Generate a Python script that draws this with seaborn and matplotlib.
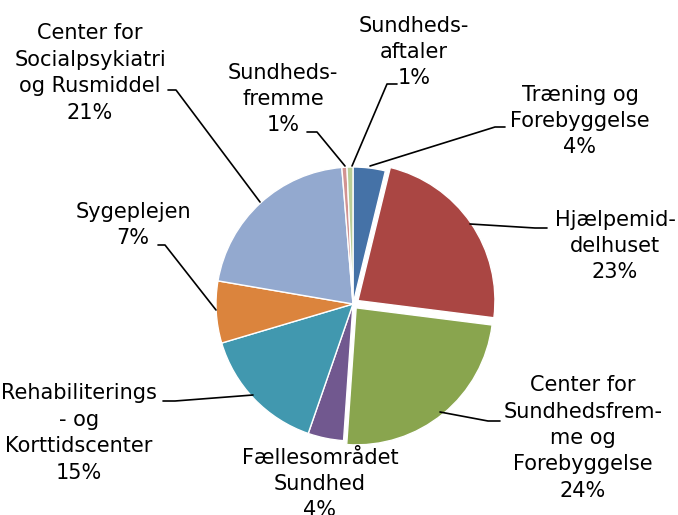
import numpy as np
import matplotlib
matplotlib.use("Agg")
import matplotlib.pyplot as plt
import seaborn as sns

# slices, clockwise from 12 o'clock
names = ["Træning og\nForebyggelse", "Hjælpemid-\ndelhuset",
         "Center for\nSundhedsfrem-\nme og\nForebyggelse", "Fællesområdet\nSundhed",
         "Rehabiliterings\n- og\nKorttidscenter", "Sygeplejen",
         "Center for\nSocialpsykiatri\nog Rusmiddel", "Sundheds-\nfremme", "Sundheds-\naftaler"]
values = [3.8, 23.2, 24.1, 4.2, 15.1, 7.3, 21.0, 0.6, 0.7]
colors = ["#4572A7", "#AA4643", "#89A54E", "#71588F", "#4198AF",
          "#DB843D", "#93A9CF", "#D19392", "#B9CD96"]
explode = [0, 6, 5, 0, 0, 0, 0, 0, 0]   # pixels

W, H = 678, 515
# label centres (pixels from top-left) and leader lines
label_pos = [(580, 121), (615, 246), (583, 438), (320, 484), (79, 433),
             (133, 225), (90, 73), (283, 99), (414, 52)]
leaders = [[(505, 127), (495, 127), (370, 166)],
           [(547, 228), (535, 228), (470, 224)],
           [(500, 421), (488, 421), (440, 412)],
           None,
           [(163, 401), (175, 401), (253, 395)],
           [(158, 245), (165, 245), (216, 310)],
           [(168, 90), (176, 90), (260, 202)],
           [(307, 132), (317, 132), (345, 166)],
           [(397, 84), (387, 84), (352, 166)]]

sns.set_style("white")
plt.rcParams['font.family'] = ['DejaVu Sans']

fig = plt.figure(figsize=(W / 100, H / 100), dpi=100)
ax = fig.add_axes([0, 0, 1, 1])

cx, cy, r = 353, H - 304, 137
ax.pie(values, colors=colors, explode=explode, startangle=90, counterclock=False,
       center=(cx, cy), radius=r, frame=True,
       wedgeprops=dict(edgecolor="white", linewidth=1.0))
ax.set_xlim(0, W)
ax.set_ylim(0, H)
ax.set_aspect("auto")
ax.axis("off")

total = sum(values)
for name, v, (lx, ly), ld in zip(names, values, label_pos, leaders):
    txt = f"{name}\n{v / total * 100:.0f}%"
    ax.text(lx, H - ly, txt, ha="center", va="center", fontsize=15,
            linespacing=1.4, color="black")
    if ld:
        xs = [p[0] for p in ld]
        ys = [H - p[1] for p in ld]
        ax.plot(xs, ys, color="black", lw=1.2)

fig.savefig("out.png", dpi=100)
